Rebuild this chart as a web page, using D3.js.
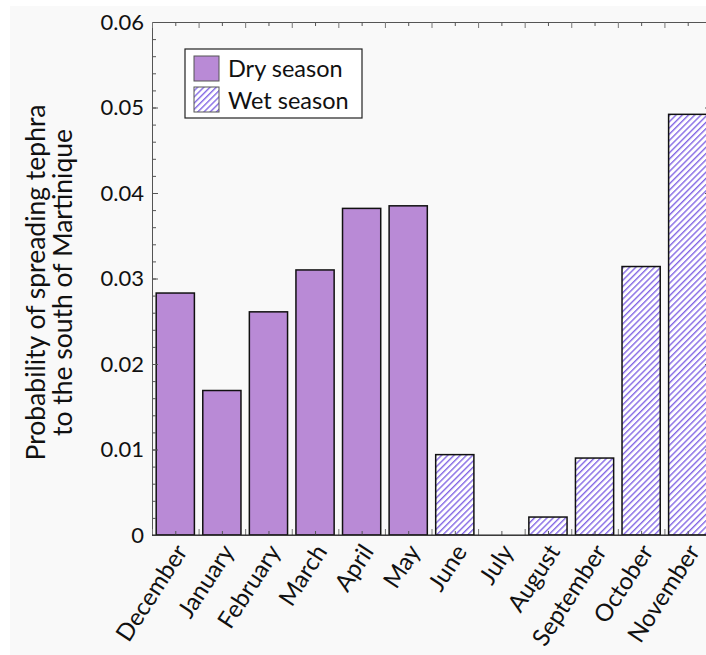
<!DOCTYPE html>
<html>
<head>
<meta charset="utf-8">
<script src="https://cdn.jsdelivr.net/npm/d3@7"></script>
<style>
  body { margin: 0; background: #fff; }
  text { font-family: Lato, "Open Sans", sans-serif; fill: #111; }
</style>
</head>
<body>
<div id="chart"></div>
<script>
const months = ["December", "January", "February", "March", "April", "May",
    "June", "July", "August", "September", "October", "November"];
const probability = [0.0283, 0.0169, 0.0261, 0.0310, 0.0382, 0.0385,
    0.0094, 0, 0.0021, 0.0090, 0.0314, 0.0492];
const season = ["Dry", "Dry", "Dry", "Dry", "Dry", "Dry",
    "Wet", "Wet", "Wet", "Wet", "Wet", "Wet"];
const yTicks = [0, 0.01, 0.02, 0.03, 0.04, 0.05, 0.06];
const legendLabels = ["Dry season", "Wet season"];

const W = 706, H = 655;
const margin = { top: 22, right: -5, bottom: 120, left: 152 };
const width = W - margin.left - margin.right;
const height = H - margin.top - margin.bottom;

const svg = d3.select("#chart")
    .append("svg")
    .attr("width", W)
    .attr("height", H);

// light grey page background
svg.append("rect")
    .attr("x", 10).attr("y", 6)
    .attr("width", W - 10).attr("height", H - 6)
    .attr("fill", "#f9f9f9");

const defs = svg.append("defs");
const pat = defs.append("pattern")
    .attr("id", "hatch")
    .attr("patternUnits", "userSpaceOnUse")
    .attr("width", 4.4).attr("height", 4.4)
    .attr("patternTransform", "rotate(45)");
pat.append("rect").attr("width", 4.4).attr("height", 4.4).attr("fill", "#fff");
pat.append("line")
    .attr("x1", 0).attr("y1", 0).attr("x2", 0).attr("y2", 4.4)
    .attr("stroke", "#8468e4").attr("stroke-width", 2.8);

const g = svg.append("g")
    .attr("transform", `translate(${margin.left},${margin.top})`);

const x = d3.scaleBand()
    .domain(months)
    .range([0, width])
    .paddingInner(0.18)
    .paddingOuter(0.09);

const y = d3.scaleLinear()
    .domain([0, 0.06])
    .range([height, 0]);

const fillFor = s => s === "Dry" ? "#b98ad6" : "url(#hatch)";

// bars
g.selectAll(".bar")
    .data(months)
    .join("rect")
    .attr("class", "bar")
    .attr("x", d => x(d))
    .attr("y", (d, i) => y(probability[i]))
    .attr("width", x.bandwidth())
    .attr("height", (d, i) => y(0) - y(probability[i]))
    .attr("fill", (d, i) => fillFor(season[i]))
    .attr("stroke", (d, i) => probability[i] > 0 ? "#111" : "none")
    .attr("stroke-width", 1.5);

const frame = "#555";
const minorY = d3.range(0, 0.0601, 0.002);
const step = x.step();
const boundaries = d3.range(0, months.length + 1).map(i => i * step);
const centers = months.map(m => x(m) + x.bandwidth() / 2);

// y axis (left) and mirrored right
g.append("g")
    .call(d3.axisLeft(y).tickValues(yTicks).tickSize(-6).tickPadding(8)
        .tickFormat(d => d === 0 ? "0" : d3.format(".2f")(d)))
    .call(a => a.select(".domain").attr("stroke", frame))
    .call(a => a.selectAll(".tick line").attr("stroke", frame))
    .call(a => a.selectAll("text").style("font-size", "22px").attr("fill", "#111"));
g.append("g")
    .call(d3.axisLeft(y).tickValues(minorY).tickSize(-4).tickFormat(""))
    .call(a => a.select(".domain").remove())
    .call(a => a.selectAll(".tick line").attr("stroke", frame));
g.append("g")
    .attr("transform", `translate(${width},0)`)
    .call(d3.axisRight(y).tickValues(yTicks).tickSize(-6).tickFormat(""))
    .call(a => a.select(".domain").attr("stroke", frame))
    .call(a => a.selectAll(".tick line").attr("stroke", frame));

// x axis ticks: boundaries (long) and centers (short), bottom and top
const xPos = d3.scaleIdentity().domain([0, width]);
[[height, d3.axisBottom], [0, d3.axisTop]].forEach(([ty, ax]) => {
    g.append("g")
        .attr("transform", `translate(0,${ty})`)
        .call(ax(xPos).tickValues(boundaries).tickSize(-6).tickFormat(""))
        .call(a => a.select(".domain").attr("stroke", frame))
        .call(a => a.selectAll(".tick line").attr("stroke", "#777"));
    g.append("g")
        .attr("transform", `translate(0,${ty})`)
        .call(ax(xPos).tickValues(centers).tickSize(-4).tickFormat(""))
        .call(a => a.select(".domain").remove())
        .call(a => a.selectAll(".tick line").attr("stroke", frame));
});

// bottom line drawn dark over the bars
g.append("line")
    .attr("x1", 0).attr("x2", width)
    .attr("y1", y(0)).attr("y2", y(0))
    .attr("stroke", "#222").attr("stroke-width", 1.2);

// month labels
g.selectAll(".mlabel")
    .data(months)
    .join("text")
    .attr("class", "mlabel")
    .attr("transform", d => `translate(${x(d) + x.bandwidth() / 2 + 6},${height + 12}) rotate(-57)`)
    .attr("text-anchor", "end")
    .attr("dy", "0.35em")
    .style("font-size", "24px")
    .text(d => d);

// y label
const yl = svg.append("text")
    .attr("transform", `translate(45,${margin.top + height / 2 + 4}) rotate(-90)`)
    .attr("text-anchor", "middle")
    .style("font-size", "26.5px");
yl.append("tspan").attr("x", 0).attr("dy", 0).text("Probability of spreading tephra");
yl.append("tspan").attr("x", 0).attr("dy", 27).text("to the south of Martinique");

// legend
const leg = svg.append("g").attr("transform", "translate(185,49)");
leg.append("rect")
    .attr("width", 177).attr("height", 69)
    .attr("fill", "#fff").attr("stroke", "#222").attr("stroke-width", 1.2);
legendLabels.forEach((lab, i) => {
    leg.append("rect")
        .attr("x", 9).attr("y", 7 + i * 31)
        .attr("width", 25).attr("height", 25)
        .attr("fill", i === 0 ? fillFor("Dry") : fillFor("Wet"))
        .attr("stroke", "#555").attr("stroke-width", 1);
    leg.append("text")
        .attr("x", 43).attr("y", 20 + i * 32)
        .attr("dy", "0.35em")
        .style("font-size", "23.5px")
        .text(lab);
});
</script>
</body>
</html>
